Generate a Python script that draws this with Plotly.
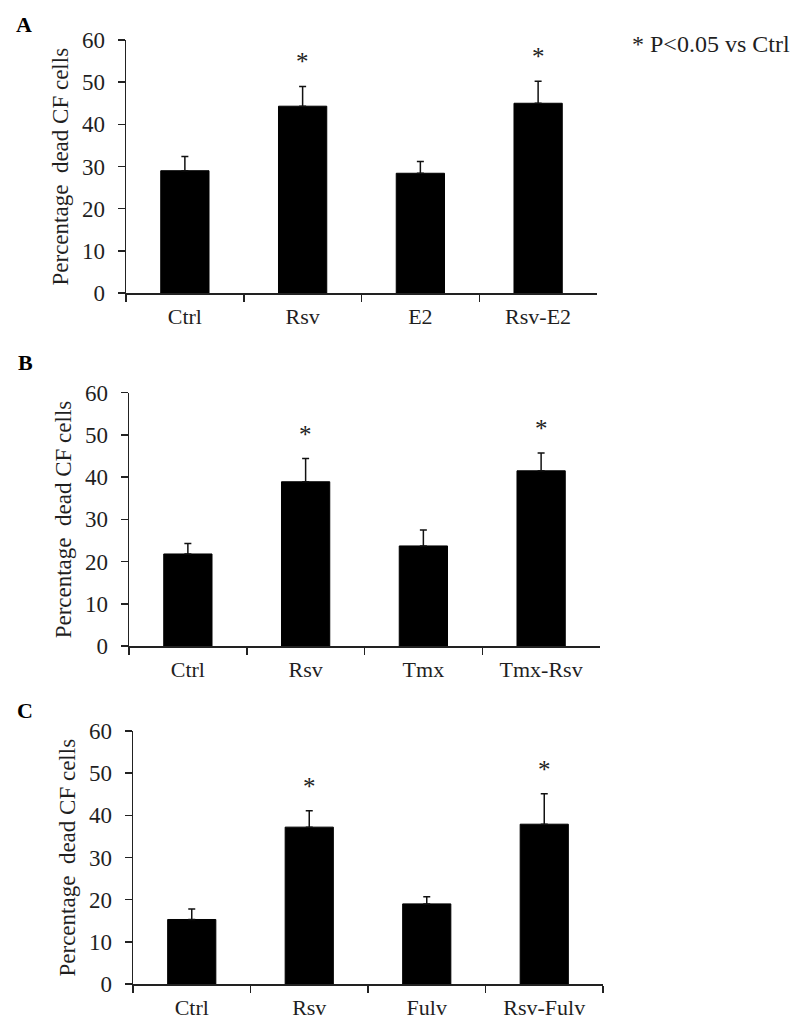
import plotly.graph_objects as go

cats_a = ["Ctrl", "Rsv", "E2", "Rsv-E2"]
mean_a = [29.0, 44.3, 28.4, 45.0]
err_a = [3.4, 4.7, 2.8, 5.2]
sig_a = [False, True, False, True]

cats_b = ["Ctrl", "Rsv", "Tmx", "Tmx-Rsv"]
mean_b = [21.8, 38.9, 23.7, 41.5]
err_b = [2.5, 5.5, 3.8, 4.2]
sig_b = [False, True, False, True]

cats_c = ["Ctrl", "Rsv", "Fulv", "Rsv-Fulv"]
mean_c = [15.3, 37.2, 19.0, 37.9]
err_c = [2.5, 3.9, 1.7, 7.2]
sig_c = [False, True, False, True]

panel_letters = ["A", "B", "C"]
y_title = "Percentage  dead CF cells"
y_ticks = [0, 10, 20, 30, 40, 50, 60]
note_text = "* P&lt;0.05 vs Ctrl"

W, H = 799, 1033
FONT = "Liberation Serif, Times New Roman, serif"
TXT = "#1f1f1f"

# pixel geometry of each panel: (x_left, x_right, y_zero, y_sixty)
geom = [(126, 597, 293, 40), (129, 600, 646, 392.7), (133, 603, 984, 731)]
letter_pos = [(24, 25), (25, 362), (25, 710)]

panels = [(cats_a, mean_a, err_a, sig_a), (cats_b, mean_b, err_b, sig_b), (cats_c, mean_c, err_c, sig_c)]

fig = go.Figure()
annotations = []
for i, ((cats, means, errs, sig), (xl, xr, y0, y60)) in enumerate(zip(panels, geom)):
    n = "" if i == 0 else str(i + 1)
    fig.add_trace(go.Bar(
        x=cats, y=means, xaxis="x" + n, yaxis="y" + n,
        marker=dict(color="#000000", line=dict(color="#000000", width=1)),
        width=0.41,
        error_y=dict(type="data", array=errs, arrayminus=[0] * len(errs), symmetric=False,
                     color="#111111", thickness=1.5, width=3.5),
        showlegend=False, hoverinfo="skip",
    ))
    dom_x = [xl / W, xr / W]
    dom_y = [1 - y0 / H, 1 - y60 / H]
    fig.update_layout(**{
        "xaxis" + n: dict(domain=dom_x, anchor="y" + n, type="category", range=[-0.5, 3.5],
                          showline=True, linecolor="#222222", linewidth=1.5,
                          ticks="outside", ticklen=7, tickwidth=1.5, tickcolor="#222222",
                          tickson="boundaries", showgrid=False, zeroline=False,
                          ticklabelstandoff=3, fixedrange=True,
                          tickfont=dict(family=FONT, size=22, color=TXT)),
        "yaxis" + n: dict(domain=dom_y, anchor="x" + n, range=[0, 60], tickvals=y_ticks,
                          showline=True, linecolor="#222222", linewidth=1.5,
                          ticks="outside", ticklen=7, tickwidth=1.5, tickcolor="#222222",
                          showgrid=False, zeroline=False, ticklabelstandoff=8, fixedrange=True,
                          tickfont=dict(family=FONT, size=23, color=TXT)),
    })
    for c, m, e, s in zip(cats, means, errs, sig):
        if s:
            annotations.append(dict(x=c, y=m + e, xref="x" + n, yref="y" + n, text="*",
                                    showarrow=False, yanchor="bottom", yshift=9,
                                    font=dict(family=FONT, size=25, color="#222222")))
    annotations.append(dict(x=(xl - 66) / W, y=1 - (y0 + y60) / 2 / H, xref="paper", yref="paper",
                            text=y_title, textangle=-90, showarrow=False,
                            xanchor="center", yanchor="middle",
                            font=dict(family=FONT, size=23, color=TXT)))
    lx, ly = letter_pos[i]
    annotations.append(dict(x=lx / W, y=1 - ly / H, xref="paper", yref="paper",
                            text="<b>" + panel_letters[i] + "</b>", showarrow=False,
                            xanchor="center", yanchor="middle",
                            font=dict(family=FONT, size=22, color="#000000")))

annotations.append(dict(x=630 / W, y=1 - 44 / H, xref="paper", yref="paper", text=note_text,
                        showarrow=False, xanchor="left", yanchor="middle",
                        font=dict(family=FONT, size=24, color=TXT)))

fig.update_layout(width=W, height=H, margin=dict(l=0, r=0, t=0, b=0),
                  template="none", hovermode=False,
                  plot_bgcolor="white", paper_bgcolor="white", bargap=0.59,
                  annotations=annotations)

fig.write_html("out.html", config={"displayModeBar": False, "staticPlot": True},
               post_script="document.body.style.margin='0';document.body.style.overflow='hidden';")
